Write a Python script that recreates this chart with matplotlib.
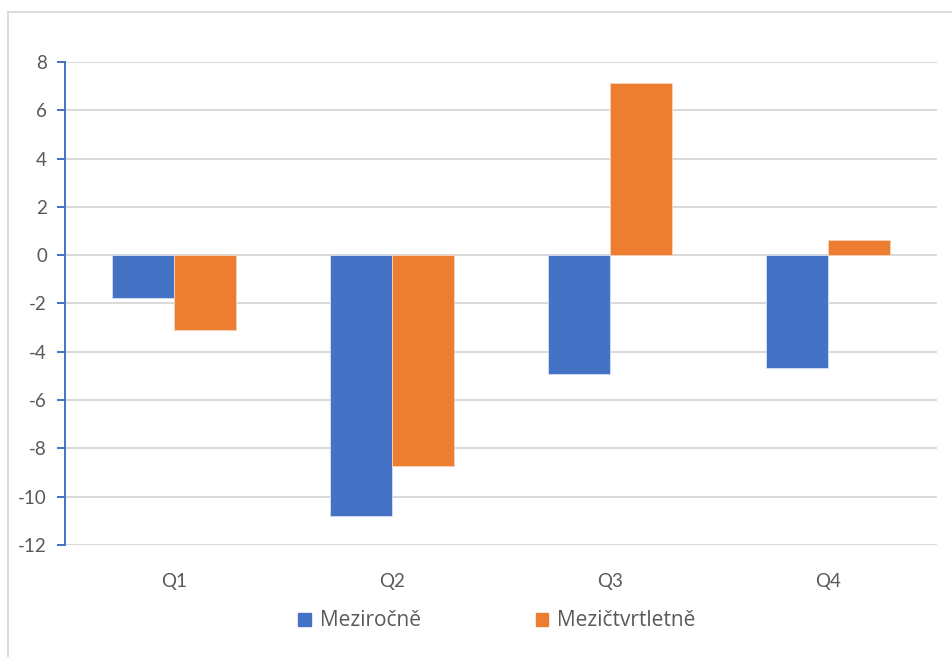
import matplotlib
matplotlib.use("Agg")
import matplotlib.pyplot as plt
import numpy as np
from matplotlib.patches import Rectangle
from matplotlib.lines import Line2D

categories = ["Q1", "Q2", "Q3", "Q4"]
series_names = ["Meziročně", "Mezičtvrtletně"]
mezirocne = [-1.78, -10.8, -4.9, -4.67]
mezictvrtletne = [-3.1, -8.72, 7.14, 0.62]
yticks = [8, 6, 4, 2, 0, -2, -4, -6, -8, -10, -12]

blue = "#4472C4"
orange = "#ED7D31"
grid = "#D9D9D9"
text_c = "#595959"

plt.rcParams['font.family'] = ['Lato', 'DejaVu Sans']

fig = plt.figure(figsize=(9.52, 6.57), dpi=100)
ax = fig.add_axes([65/952, 1-545/657, (937-65)/952, (545-62)/657])

x = np.arange(len(categories))
w = 0.285
ax.bar(x - w/2, mezirocne, w, color=blue, edgecolor="#D6E0F2", linewidth=0.6, zorder=3, label=series_names[0])
ax.bar(x + w/2, mezictvrtletne, w, color=orange, edgecolor="#F8D3BC", linewidth=0.6, zorder=3, label=series_names[1])

ax.set_xlim(-0.5, len(categories) - 0.5)
ax.set_ylim(-12, 8)
ax.set_yticks(yticks)
ax.set_yticklabels([str(t) for t in yticks])
ax.set_xticks(x)
ax.set_xticklabels(categories)
ax.yaxis.grid(True, color=grid, linewidth=1.4, zorder=0)
ax.set_axisbelow(True)

for s in ["top", "right", "bottom"]:
    ax.spines[s].set_visible(False)
ax.spines["left"].set_color(blue)
ax.spines["left"].set_linewidth(1.4)
ax.spines["left"].set_zorder(4)
ax.tick_params(axis="y", colors=blue, labelcolor=text_c, length=6, width=1.4, direction="out", labelsize=13.5, pad=7)
ax.tick_params(axis="x", length=0, labelcolor=text_c, labelsize=13.5, pad=20)

# outer chart frame
fig.add_artist(Line2D([8/952, 1], [1-12/657, 1-12/657], color=grid, linewidth=1.3, transform=fig.transFigure))
fig.add_artist(Line2D([8/952, 8/952], [0, 1-12/657], color=grid, linewidth=1.3, transform=fig.transFigure))

handles = [Rectangle((0, 0), 1, 1, color=blue), Rectangle((0, 0), 1, 1, color=orange)]
fig.legend(handles, series_names, loc="center", bbox_to_anchor=(497/952, 1-621/657), ncol=2,
           frameon=False, prop={'family': ['Open Sans', 'DejaVu Sans'], 'size': 15}, labelcolor=text_c,
           handlelength=0.6, handleheight=0.6, handletextpad=0.45, columnspacing=5.5)

fig.savefig("out.png", dpi=100)
